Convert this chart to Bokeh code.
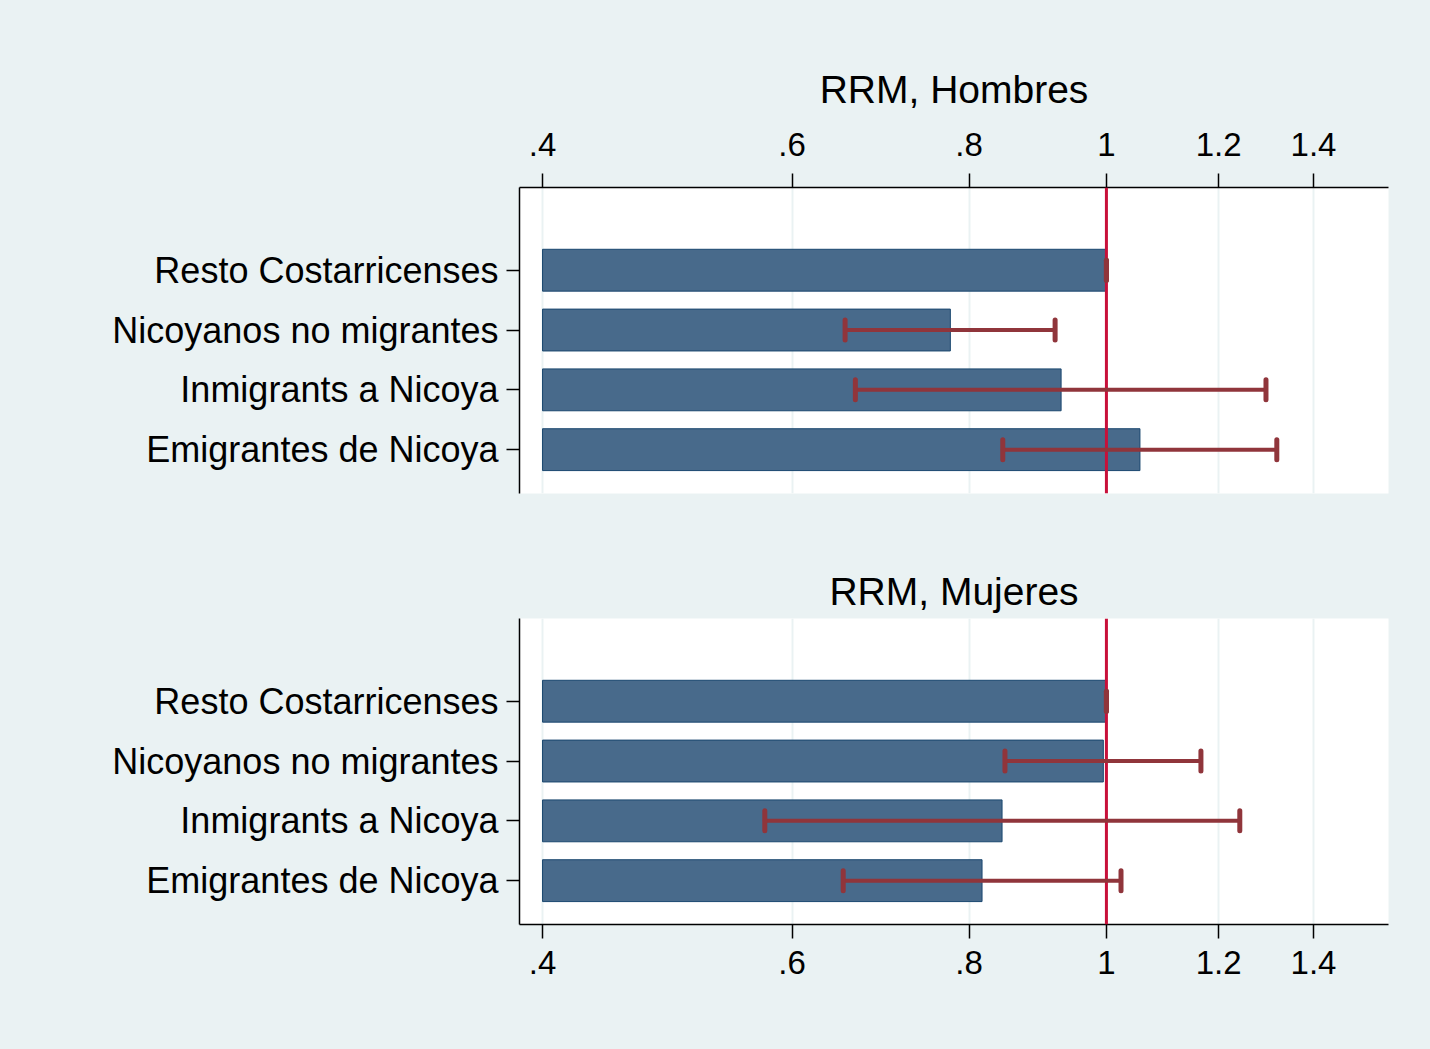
from bokeh.plotting import figure
from bokeh.layouts import column
from bokeh.models import (Range1d, FixedTicker, CustomJSTickFormatter, Span,
                          Whisker, TeeHead, ColumnDataSource)
from bokeh.embed import file_html
from bokeh.resources import INLINE

# ---- data ----
categories = ["Resto Costarricenses", "Nicoyanos no migrantes",
              "Inmigrants a Nicoya", "Emigrantes de Nicoya"]
base_value = 0.4
hombres_rrm = [1.0, 0.776, 0.929, 1.056]
hombres_lo = [1.0, 0.654, 0.665, 0.845]
hombres_hi = [1.0, 0.920, 1.296, 1.319]
mujeres_rrm = [1.0, 0.995, 0.844, 0.817]
mujeres_lo = [1.0, 0.848, 0.574, 0.652]
mujeres_hi = [1.0, 1.166, 1.242, 1.024]
x_ticks = [0.4, 0.6, 0.8, 1.0, 1.2, 1.4]
titles = ["RRM, Hombres", "RRM, Mujeres"]

BG = "#EAF2F3"
BAR = "#486A8B"
BAR_LINE = "#1A476F"
CI = "#90353B"
REF = "#C8103A"
FONT = "Liberation Sans"

ypos = [len(categories) - i for i in range(len(categories))]
label_map = {y: c for y, c in zip(ypos, categories)}


def make_panel(title, rrm, lo, hi, axis_loc, height, mb_top, mb_bottom,
               tick_standoff, title_standoff):
    p = figure(width=1430, height=height, output_backend="svg",
               toolbar_location=None, x_axis_type="log",
               x_axis_location=axis_loc,
               x_range=Range1d(0.3853, 1.5815), y_range=Range1d(0.267, 5.383),
               min_border_left=519, min_border_right=42,
               min_border_top=mb_top, min_border_bottom=mb_bottom,
               styles={"background-color": BG})
    p.border_fill_color = BG
    p.background_fill_color = "white"
    p.outline_line_color = None

    p.title.text = title
    p.title.align = "center"
    p.title.text_font = FONT
    p.title.text_font_size = "39px"
    p.title.text_font_style = "normal"
    p.title.text_color = "black"
    p.title.standoff = title_standoff

    src = ColumnDataSource(dict(y=ypos, right=rrm, lo=lo, hi=hi,
                                left=[base_value] * len(rrm)))
    p.hbar(y="y", left="left", right="right", height=0.7, source=src,
           fill_color=BAR, line_color=BAR_LINE, line_width=1)

    p.add_layout(Span(location=1.0, dimension="height", line_color=REF,
                      line_width=3, level="annotation"))
    w = Whisker(base="y", lower="lo", upper="hi", dimension="width",
                source=src, line_color=CI, line_width=4, line_cap="round",
                level="overlay",
                lower_head=TeeHead(size=20, line_color=CI, line_width=5,
                                   line_cap="round"),
                upper_head=TeeHead(size=20, line_color=CI, line_width=5,
                                   line_cap="round"))
    p.add_layout(w)

    xt = FixedTicker(ticks=x_ticks)
    p.xaxis.ticker = xt
    p.xgrid.ticker = xt
    p.xgrid.grid_line_color = BG
    p.xgrid.grid_line_width = 2
    p.ygrid.grid_line_color = None
    p.xaxis.formatter = CustomJSTickFormatter(
        code="var s = tick.toString(); return tick < 1 ? s.replace('0.', '.') : s;")
    p.yaxis.ticker = FixedTicker(ticks=ypos)
    p.yaxis.major_label_overrides = label_map

    for ax in (p.xaxis, p.yaxis):
        ax.axis_line_color = "black"
        ax.axis_line_width = 1.5
        ax.major_tick_line_color = "black"
        ax.major_tick_line_width = 1.5
        ax.major_tick_in = 0
        ax.minor_tick_line_color = None
        ax.major_label_text_font = FONT
        ax.major_label_text_color = "black"
    p.xaxis.major_tick_out = 14
    p.xaxis.major_label_standoff = tick_standoff
    p.xaxis.major_label_text_font_size = "33px"
    p.yaxis.major_tick_out = 13
    p.yaxis.major_label_standoff = 8
    p.yaxis.major_label_text_font_size = "36px"
    return p


top = make_panel(titles[0], hombres_rrm, hombres_lo, hombres_hi,
                 "above", 555, 187, 62, 18, 38)
bot = make_panel(titles[1], mujeres_rrm, mujeres_lo, mujeres_hi,
                 "below", 494, 63, 125, 12, 11)

layout = column(top, bot, spacing=0, styles={"background-color": BG})
html = file_html(layout, INLINE)
html = html.replace("<body>", '<body style="background-color:#EAF2F3">', 1)
open("out.html", "w").write(html)
